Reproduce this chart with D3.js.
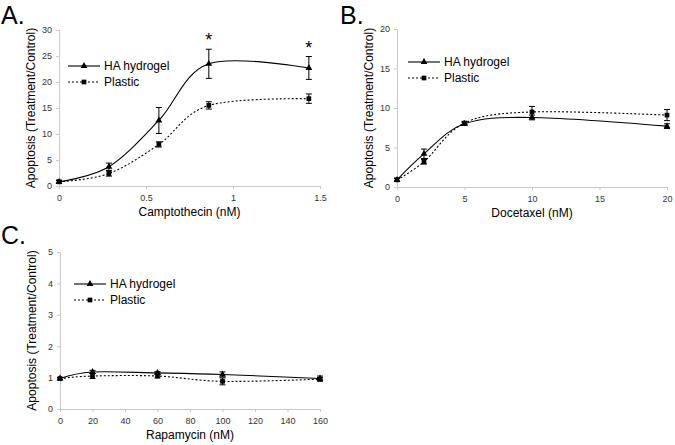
<!DOCTYPE html>
<html><head><meta charset="utf-8">
<script src="https://cdn.jsdelivr.net/npm/d3@7"></script>
<style>body{margin:0;background:#fff}svg{display:block}</style>
</head><body>
<script>
// Panel A: Camptothecin
const doseA = [0, 0.287, 0.574, 0.861, 1.436];
const haA = [0.8, 3.7, 12.6, 23.5, 22.7];
const haErrA = [0.3, 0.7, 2.5, 2.8, 2.2];
const plA = [0.8, 2.4, 8.0, 15.5, 16.8];
const plErrA = [0.3, 0.5, 0.5, 0.7, 0.9];
const ticksXA = [0, 0.5, 1, 1.5];
const ticksYA = [0, 5, 10, 15, 20, 25, 30];
const starsA = [0.861, 1.436];
// Panel B: Docetaxel
const doseB = [0, 2, 5, 10, 20];
const haB = [0.9, 4.2, 8.0, 8.8, 7.7];
const haErrB = [0.2, 0.6, 0.2, 0.3, 0.3];
const plB = [0.9, 3.2, 8.1, 9.5, 9.1];
const plErrB = [0.2, 0.3, 0.2, 0.7, 0.7];
const ticksXB = [0, 5, 10, 15, 20];
const ticksYB = [0, 5, 10, 15, 20];
// Panel C: Rapamycin
const doseC = [0, 20, 60, 100, 160];
const haC = [0.97, 1.18, 1.15, 1.1, 0.97];
const haErrC = [0.03, 0.05, 0.04, 0.08, 0.08];
const plC = [0.97, 1.05, 1.05, 0.88, 0.95];
const plErrC = [0.03, 0.08, 0.06, 0.11, 0.05];
const ticksXC = [0, 20, 40, 60, 80, 100, 120, 140, 160];
const ticksYC = [0, 1, 2, 3, 4, 5];

const W = 675, H = 445;
const svg = d3.select("body").append("svg").attr("width", W).attr("height", H);
const FONT = "Liberation Sans, Arial, sans-serif";
const TRI = 20, SQ = 22;

function panel(o) {
  const g = svg.append("g");
  const x = d3.scaleLinear().domain(o.xd).range([o.x0, o.x1]);
  const y = d3.scaleLinear().domain(o.yd).range([o.y0, o.y1]);
  const ax = g.append("g").attr("transform", `translate(0,${o.y0})`)
    .call(d3.axisBottom(x).tickValues(o.tx).tickSize(3).tickPadding(6).tickFormat(d3.format("")));
  const ay = g.append("g").attr("transform", `translate(${o.x0},0)`)
    .call(d3.axisLeft(y).tickValues(o.ty).tickSize(3).tickPadding(4).tickFormat(d3.format("")));
  [ax, ay].forEach(a => {
    a.select(".domain").attr("stroke", "#c8c8c8");
    a.selectAll(".tick line").attr("stroke", "#c8c8c8");
    a.selectAll("text").attr("font-family", FONT).attr("font-size", 9).attr("fill", "#333");
  });
  g.append("text").attr("x", (o.x0 + o.x1) / 2).attr("y", o.y0 + 30)
    .attr("text-anchor", "middle").attr("font-family", FONT).attr("font-size", 12).text(o.xlabel);
  g.append("text").attr("transform", `translate(${o.x0 - 24},${(o.y0 + o.y1) / 2}) rotate(-90)`)
    .attr("text-anchor", "middle").attr("font-family", FONT).attr("font-size", 12)
    .text("Apoptosis (Treatment/Control)");
  g.append("text").attr("x", o.lx).attr("y", o.ly).attr("font-family", FONT)
    .attr("font-size", 25).text(o.letter);

  const line = d3.line().curve(d3.curveCatmullRom.alpha(0)).x(d => x(d[0])).y(d => y(d[1]));
  const series = [
    {v: o.ha, e: o.haE, dash: null, shape: d3.symbolTriangle, size: TRI},
    {v: o.pl, e: o.plE, dash: "2,2", shape: d3.symbolSquare, size: SQ}
  ];
  series.forEach(s => {
    const pts = o.dose.map((d, i) => [d, s.v[i]]);
    g.append("path").attr("d", line(pts)).attr("fill", "none").attr("stroke", "#000")
      .attr("stroke-width", 1.1).attr("stroke-dasharray", s.dash);
    pts.forEach((p, i) => {
      const cx = x(p[0]);
      const yt = y(p[1] + s.e[i]), yb = y(p[1] - s.e[i]);
      g.append("path").attr("d", `M${cx},${yt}V${yb}M${cx - 3},${yt}H${cx + 3}M${cx - 3},${yb}H${cx + 3}`)
        .attr("stroke", "#000").attr("stroke-width", 1).attr("fill", "none");
      g.append("path").attr("d", d3.symbol(s.shape, s.size)()).attr("transform", `translate(${cx},${y(p[1])})`)
        .attr("fill", "#000");
    });
  });
  const leg = [
    {t: "HA hydrogel", dash: null, shape: d3.symbolTriangle, size: TRI, yy: o.legY},
    {t: "Plastic", dash: "2,2", shape: d3.symbolSquare, size: SQ, yy: o.legY + 16}
  ];
  leg.forEach(l => {
    g.append("line").attr("x1", o.legX).attr("x2", o.legX + 32).attr("y1", l.yy).attr("y2", l.yy)
      .attr("stroke", "#000").attr("stroke-width", 1.1).attr("stroke-dasharray", l.dash);
    g.append("path").attr("d", d3.symbol(l.shape, l.size)()).attr("transform", `translate(${o.legX + 16},${l.yy})`);
    g.append("text").attr("x", o.legX + 36).attr("y", l.yy + 4).attr("font-family", FONT)
      .attr("font-size", 12).text(l.t);
  });
  if (o.stars) {
    o.stars.forEach(sx => {
      const i = o.dose.indexOf(sx);
      g.append("text").attr("x", x(sx)).attr("y", y(o.ha[i] + o.haE[i]) - 3)
        .attr("text-anchor", "middle").attr("font-family", FONT).attr("font-size", 18).text("*");
    });
  }
}

panel({x0: 59, x1: 320, y0: 186, y1: 30, xd: [0, 1.5], yd: [0, 30], tx: ticksXA, ty: ticksYA,
  dose: doseA, ha: haA, haE: haErrA, pl: plA, plE: plErrA, xlabel: "Camptothecin (nM)",
  letter: "A.", lx: 1, ly: 24, legX: 68, legY: 66, stars: starsA});
panel({x0: 397, x1: 667, y0: 187, y1: 29, xd: [0, 20], yd: [0, 20], tx: ticksXB, ty: ticksYB,
  dose: doseB, ha: haB, haE: haErrB, pl: plB, plE: plErrB, xlabel: "Docetaxel (nM)",
  letter: "B.", lx: 340, ly: 24, legX: 408, legY: 62});
panel({x0: 60, x1: 320, y0: 409, y1: 252, xd: [0, 160], yd: [0, 5], tx: ticksXC, ty: ticksYC,
  dose: doseC, ha: haC, haE: haErrC, pl: plC, plE: plErrC, xlabel: "Rapamycin (nM)",
  letter: "C.", lx: 1, ly: 244, legX: 74, legY: 284});
</script>
</body></html>
